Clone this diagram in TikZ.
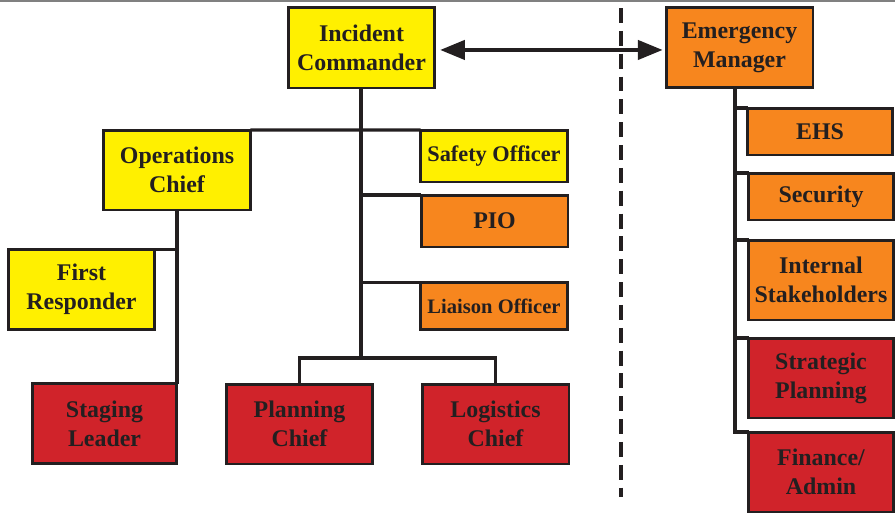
\documentclass[tikz,border=0pt]{standalone}
\usepackage{fontspec}
\setmainfont{Liberation Serif}
\usetikzlibrary{arrows.meta}

\definecolor{edge}{RGB}{35,31,32}
\definecolor{icyellow}{RGB}{255,240,0}
\definecolor{icorange}{RGB}{247,134,30}
\definecolor{icred}{RGB}{208,35,42}

\begin{document}
\begin{tikzpicture}[x=0.02cm, y=-0.02cm,
	box/.style={draw=edge, line width=1.7pt, rectangle, inner sep=0pt, outer sep=0pt, align=center, text=edge,
		minimum width=2.94cm, font=\bfseries\fontsize{13.6}{16.5}\selectfont},
	tall/.style={box, minimum height=1.6cm},
	flat/.style={box, minimum height=1.04cm},
	link/.style={draw=edge, line width=1.8pt}]

			\useasboundingbox (0,0) rectangle (895,514);
			\coordinate (topl) at (0,1);
			\coordinate (topr) at (895,1);
			\draw[gray, line width=1pt] (topl) -- (topr);

			% command side
			\node[tall, fill=icyellow, minimum height=1.62cm] (ic) at (361.5,47.5) {Incident\\Commander};
			\node[tall, fill=icyellow] (ops) at (177,170) {Operations\\Chief};
			\node[flat, fill=icyellow, font=\bfseries\fontsize{12.7}{15}\selectfont] (safety) at (494,156) {Safety Officer};
			\node[flat, fill=icorange] (pio) at (494.5,221) {PIO};
			\node[box, fill=icorange, minimum height=0.94cm, font=\bfseries\fontsize{11.7}{14}\selectfont] (liaison) at (494,306) {Liaison Officer};
			\node[tall, fill=icyellow] (first) at (81.5,289.5) {First\\Responder};
			\node[tall, fill=icred, minimum width=2.9cm] (staging) at (104.5,423.5) {Staging\\Leader};
			\node[tall, fill=icred] (planning) at (299.5,424) {Planning\\Chief};
			\node[tall, fill=icred] (logistics) at (495.5,424) {Logistics\\Chief};

			% emergency side
			\node[tall, fill=icorange] (em) at (739.5,47.5) {Emergency\\Manager};
			\node[box, fill=icorange, minimum width=2.9cm, minimum height=0.94cm] (ehs) at (820,131.5) {EHS};
			\node[box, fill=icorange, minimum width=2.9cm, minimum height=0.94cm] (security) at (821,196.5) {Security};
			\node[tall, fill=icorange, minimum width=2.9cm] (internal) at (821,280) {Internal\\Stakeholders};
			\node[tall, fill=icred, minimum width=2.9cm] (strategic) at (821,378) {Strategic\\Planning};
			\node[tall, fill=icred, minimum width=2.9cm] (finance) at (821,472) {Finance/\\Admin};

			\coordinate (split) at (361,358);
			\coordinate (emleg) at (735,0);
			\coordinate (divtop) at (621,8);
			\coordinate (divbot) at (621,497);

			\draw[link] (ic.south -| split) -- (split);
			\draw[link] (planning.north) |- (split) -| (logistics.north);
			\draw[link] (ops.north east) -- (safety.north west);
			\draw[link] (pio.north west -| split) -- (pio.north west);
			\draw[link] (liaison.north west -| split) -- (liaison.north west);
			\draw[link] (ops.south) -- (ops.south |- staging.north);
			\draw[link] (first.north east) -- (first.north east -| ops.south);

			\draw[link] (em.south -| emleg) |- (finance.north west);
			\draw[link] (ehs.north west -| emleg) -- (ehs.north west);
			\draw[link] (security.north west -| emleg) -- (security.north west);
			\draw[link] (internal.north west -| emleg) -- (internal.north west);
			\draw[link] (strategic.north west -| emleg) -- (strategic.north west);

			\draw[link, {Triangle[length=14pt,width=11pt]}-{Triangle[length=14pt,width=11pt]},
				shorten <=3pt, shorten >=2pt] ([yshift=-1.4pt]ic.east) -- ([yshift=-1.4pt]em.west);
			\draw[edge, line width=2.3pt, dash pattern=on 8.5pt off 4.5pt] (divtop) -- (divbot);

		\end{tikzpicture}
\end{document}
